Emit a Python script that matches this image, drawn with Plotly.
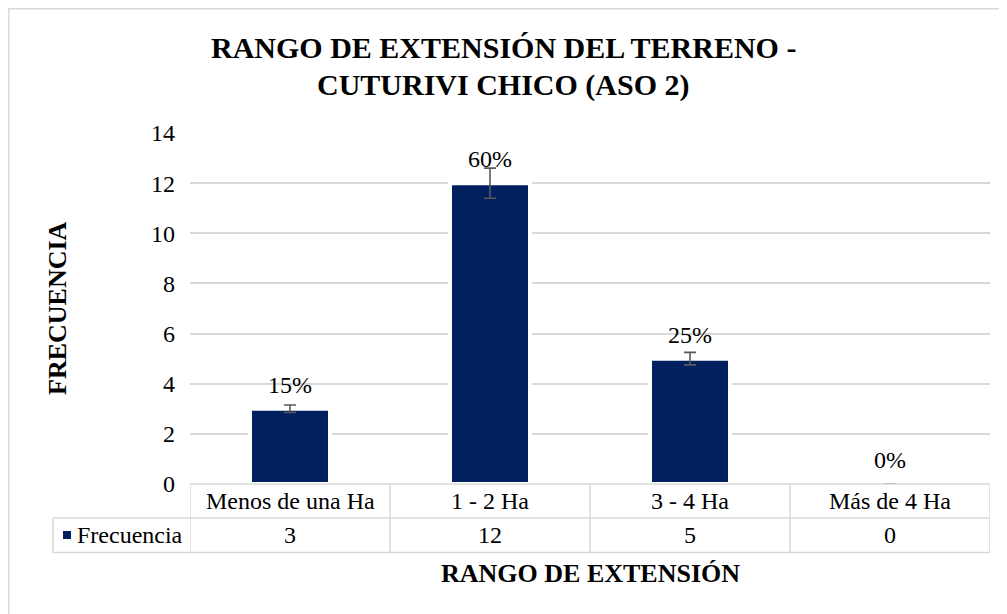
import plotly.graph_objects as go

categories = ["Menos de una Ha", "1 - 2 Ha", "3 - 4 Ha", "Más de 4 Ha"]
frecuencia = [3, 12, 5, 0]
series_name = "Frecuencia"
title_lines = ["RANGO DE EXTENSIÓN DEL TERRENO -", "CUTURIVI CHICO (ASO 2)"]
x_title = "RANGO DE EXTENSIÓN"
y_title = "FRECUENCIA"
y_ticks = [0, 2, 4, 6, 8, 10, 12, 14]

total = sum(frecuencia)
percent_labels = [f"{round(v * 100 / total)}%" for v in frecuencia]

# page is offset by the browser's default 8px body margin
OFF = 8
W, H = 1007 - OFF, 614 - OFF
# plot area in page pixels: x 190..990, y 133..484
L, R, T, B = 190 - OFF, 1007 - 990, 133 - OFF, 614 - 484
PW, PH = W - L - R, H - T - B
FONT = "Liberation Serif"
NAVY = "#002060"
GRID = "#D9D9D9"


def px_x(px):
    return (px - OFF - L) / PW


def px_y(py):
    return (H - B - (py - OFF)) / PH


fig = go.Figure()
fig.add_trace(go.Bar(
    x=list(range(len(categories))),
    y=frecuencia,
    name=series_name,
    width=0.40,
    marker=dict(color=NAVY, line=dict(color="white", width=4)),
    error_y=dict(type="percent", value=5, color="#595959", thickness=1.6, width=6),
    showlegend=False,
))

ann = []
for i, (v, p) in enumerate(zip(frecuencia, percent_labels)):
    ann.append(dict(x=i, y=v, xref="x", yref="y", text=p, showarrow=False,
                    yanchor="middle", yshift=24, font=dict(family=FONT, size=24, color="#000")))
row1_c = (484 + 518) / 2
row2_c = (518 + 552.5) / 2
for i, (c, v) in enumerate(zip(categories, frecuencia)):
    ann.append(dict(x=i, y=px_y(row1_c), xref="x", yref="paper", text=c, showarrow=False,
                    yanchor="middle", font=dict(family=FONT, size=24, color="#000")))
    ann.append(dict(x=i, y=px_y(row2_c), xref="x", yref="paper", text=str(v), showarrow=False,
                    yanchor="middle", font=dict(family=FONT, size=24, color="#000")))
ann.append(dict(x=px_x(75), y=px_y(row2_c), xref="paper", yref="paper", text=series_name,
                showarrow=False, xanchor="left", yanchor="middle",
                font=dict(family=FONT, size=24, color="#000")))
ann.append(dict(x=px_x(590), y=px_y(573), xref="paper", yref="paper", text=x_title,
                showarrow=False, xanchor="center", yanchor="middle",
                font=dict(family=FONT, size=26, color="#000", weight=700)))
ann.append(dict(x=px_x(57), y=px_y(308), xref="paper", yref="paper", text=y_title,
                showarrow=False, textangle=-90, xanchor="center", yanchor="middle",
                font=dict(family=FONT, size=26, color="#000", weight=700)))
# chart title (two centered lines)
for line_text, cy in zip(title_lines, (47, 85)):
    ann.append(dict(x=px_x(503), y=px_y(cy), xref="paper", yref="paper",
                    text=line_text, showarrow=False, xanchor="center", yanchor="middle",
                    font=dict(family=FONT, size=30, color="#000", weight=700)))

shapes = []
line = dict(color=GRID, width=1.5)
shapes.append(dict(type="line", xref="paper", yref="paper", x0=0, x1=1, y0=px_y(484), y1=px_y(484), line=line))
for py in (518, 552.5):
    shapes.append(dict(type="line", xref="paper", yref="paper", x0=px_x(53), x1=1,
                       y0=px_y(py), y1=px_y(py), line=line))
for i in range(len(categories) + 1):
    shapes.append(dict(type="line", xref="x", yref="paper", x0=i - 0.5, x1=i - 0.5,
                       y0=px_y(484), y1=px_y(552.5), line=line))
shapes.append(dict(type="line", xref="paper", yref="paper", x0=px_x(53), x1=px_x(53),
                   y0=px_y(518), y1=px_y(552.5), line=line))
shapes.append(dict(type="rect", xref="paper", yref="paper", x0=px_x(63), x1=px_x(71),
                   y0=px_y(539), y1=px_y(531), fillcolor=NAVY, line=dict(width=0)))
# outer chart border (left and top edges visible)
shapes.append(dict(type="rect", xref="paper", yref="paper", x0=px_x(8.8), x1=px_x(1012),
                   y0=px_y(620), y1=px_y(8.8), line=dict(color=GRID, width=1.5),
                   fillcolor="rgba(0,0,0,0)", layer="below"))

fig.update_layout(
    width=W, height=H,
    margin=dict(l=L, r=R, t=T, b=B, autoexpand=False),
    paper_bgcolor="white", plot_bgcolor="white",
    xaxis=dict(range=[-0.5, len(categories) - 0.5], showticklabels=False, showgrid=False,
               zeroline=False, showline=False, ticks=""),
    yaxis=dict(range=[0, 14], tickvals=y_ticks, showgrid=True, gridcolor=GRID, gridwidth=1.5,
               zeroline=False, showline=False, ticks="", ticklabelstandoff=14,
               tickfont=dict(family=FONT, size=24, color="#000")),
    annotations=ann,
    shapes=shapes,
)
fig.write_html("out.html")
